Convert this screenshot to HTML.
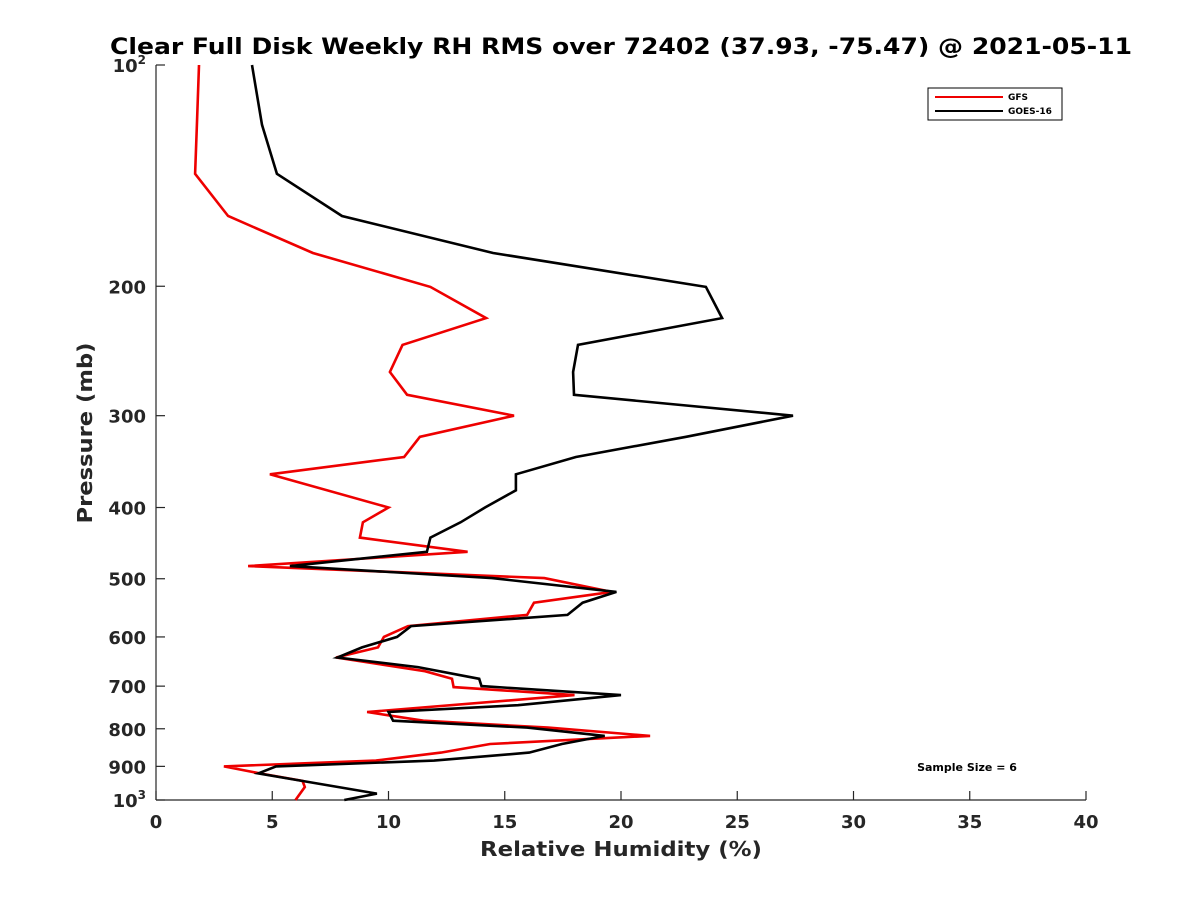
<!DOCTYPE html>
<html><head><meta charset="utf-8"><style>
body{margin:0;background:#fff;}
svg{display:block;font-family:"DejaVu Sans","Liberation Sans",sans-serif;}
</style></head><body>
<svg id="chart" width="1200" height="900" viewBox="0 0 1200 900">
<rect width="1200" height="900" fill="#fff"/>
<text x="621" y="54" text-anchor="middle" font-size="22" font-weight="bold" fill="#000" textLength="1022" lengthAdjust="spacingAndGlyphs">Clear Full Disk Weekly RH RMS over 72402 (37.93, -75.47) @ 2021-05-11</text>
<g id="axes"></g>
<g id="series"></g>
<text x="621" y="856" text-anchor="middle" font-size="20" font-weight="bold" fill="#262626" textLength="282" lengthAdjust="spacingAndGlyphs">Relative Humidity (%)</text>
<text transform="translate(92,433) rotate(-90)" text-anchor="middle" font-size="20" font-weight="bold" fill="#262626" textLength="181" lengthAdjust="spacingAndGlyphs">Pressure (mb)</text>
<g>
<rect x="928" y="88" width="134" height="32" fill="#fff" stroke="#000" stroke-width="1"/>
<line x1="935" y1="97" x2="1003" y2="97" stroke="#e00" stroke-width="2"/>
<text x="1008" y="100" font-size="9" font-weight="bold">GFS</text>
<line x1="935" y1="111" x2="1003" y2="111" stroke="#000" stroke-width="2"/>
<text x="1008" y="114" font-size="9" font-weight="bold">GOES-16</text>
</g>
<text x="967" y="771" text-anchor="middle" font-size="11" font-weight="bold">Sample Size = 6</text>
</svg>
<script>
const pressureBlack=[100,120.6,140.6,160.5,180.2,200.4,221,240.3,261.6,281,300,320.5,341.5,360.5,379,400,419,439.5,459.5,480.6,499,521,539,560,580,600,620,640,659.5,684,700,720,743,759,780,797,818,839,862,884,900,920,942,980,1000];
const goesValues=[4.13,4.56,5.2,8.0,14.5,23.65,24.35,18.15,17.94,17.98,27.4,22.8,18.06,15.48,15.48,14.15,13.1,11.8,11.65,5.76,14.45,19.8,18.35,17.7,10.97,10.37,8.86,7.8,11.27,13.9,14.0,20.0,15.57,10.0,10.2,15.96,19.3,17.46,16.05,11.96,5.16,4.4,6.28,9.5,8.1];
const pressureRed=[100,120.6,140.6,160.5,180.2,200.4,221,240.3,261.6,281,300,320.5,341.5,360.5,400,419,439.5,459.5,480.6,499,521,539,560,580,600,620,640,668,684,702,720,759,780,797,818,839,862,884,900,920,942,960,1000];
const gfsValues=[1.85,1.76,1.68,3.1,6.75,11.8,14.2,10.6,10.06,10.8,15.4,11.35,10.67,4.9,10.0,8.9,8.77,13.4,3.96,16.7,19.6,16.26,15.96,10.84,9.8,9.55,7.74,11.57,12.73,12.8,18.0,9.08,11.5,16.86,21.25,14.37,12.26,9.46,2.92,4.47,6.3,6.4,6.0];
const xTicks=[0,5,10,15,20,25,30,35,40];
const yTicks=[100,200,300,400,500,600,700,800,900,1000];
const yTickLabels=["10|2","200","300","400","500","600","700","800","900","10|3"];
const X0=156,X1=1086,Y0=65,Y1=800;
const xs=v=>X0+(v-0)/(40-0)*(X1-X0);
const ys=p=>Y0+(Math.log10(p)-2)*(Y1-Y0);
const NS="http://www.w3.org/2000/svg";
const ax=document.getElementById('axes'),sr=document.getElementById('series');
function mk(t,a,parent){const e=document.createElementNS(NS,t);for(const k in a)e.setAttribute(k,a[k]);parent.appendChild(e);return e;}
let l=mk('line',{x1:X0,y1:Y0,x2:X0,y2:Y1,stroke:'#262626','stroke-width':1.2},ax);


l=mk('line',{x1:X0,y1:Y1,x2:X1,y2:Y1,stroke:'#262626','stroke-width':1.2},ax);


xTicks.forEach(v=>{
 const t=mk('line',{x1:xs(v),y1:Y1,x2:xs(v),y2:Y1-9,stroke:'#262626','stroke-width':1.2},ax);
 
 
 const tx=mk('text',{x:xs(v),y:Y1+28,'text-anchor':'middle','font-size':18,'font-weight':'bold',fill:'#262626'},ax);
 tx.textContent=v;
 
 
});
yTicks.forEach((p,i)=>{
 const t=mk('line',{x1:X0,y1:ys(p),x2:X0+9,y2:ys(p),stroke:'#262626','stroke-width':1.2},ax);
 
 
 const tx=mk('text',{x:X0-10,y:ys(p)+7,'text-anchor':'end','font-size':18,'font-weight':'bold',fill:'#262626'},ax);
 const parts=yTickLabels[i].split('|');
 if(parts.length===2){
  const a=mk('tspan',{},tx);a.textContent=parts[0];
  const b=mk('tspan',{dy:-8,'font-size':12},tx);b.textContent=parts[1];
 } else tx.textContent=parts[0];
 
 
});
function line(vals,pres,color,name){
 const pts=vals.map((v,i)=>xs(v).toFixed(1)+','+ys(pres[i]).toFixed(1)).join(' ');
 const e=mk('polyline',{points:pts,fill:'none',stroke:color,'stroke-width':2.6,'stroke-linejoin':'miter'},sr);
 
 
}
line(gfsValues,pressureRed,'#e00','gfs-line');
line(goesValues,pressureBlack,'#000','goes16-line');
</script>
</body></html>
